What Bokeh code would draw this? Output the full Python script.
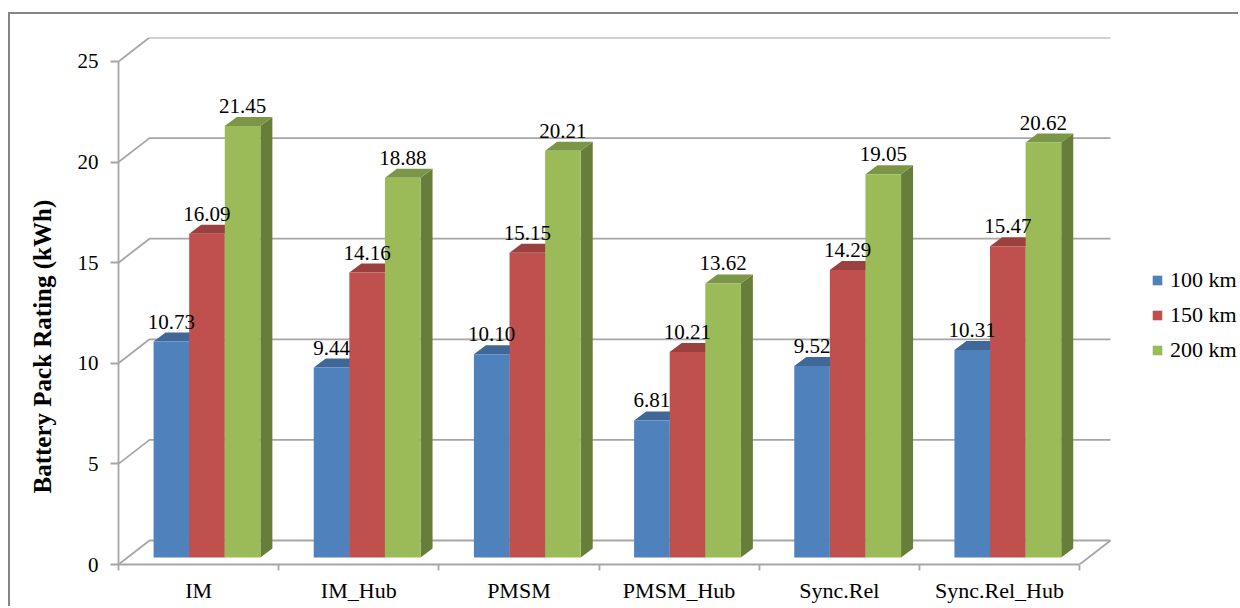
from bokeh.plotting import figure
from bokeh.embed import file_html
from bokeh.resources import INLINE
from bokeh.core.properties import value
from bokeh.models import FixedTicker, Legend, LegendItem, Range1d, Title

categories = ["IM", "IM_Hub", "PMSM", "PMSM_Hub", "Sync.Rel", "Sync.Rel_Hub"]
km100 = [10.73, 9.44, 10.10, 6.81, 9.52, 10.31]
km150 = [16.09, 14.16, 15.15, 10.21, 14.29, 15.47]
km200 = [21.45, 18.88, 20.21, 13.62, 19.05, 20.62]
series_names = ["100 km", "150 km", "200 km"]
y_ticks = [0, 5, 10, 15, 20, 25]

FONT = "Liberation Serif"
GRID = "#a6a6a6"
front_colors = ["#4f81bd", "#c0504d", "#9bbb59"]
top_colors = ["#3f6797", "#9a403e", "#7c9647"]
side_colors = ["#3b6190", "#903c3a", "#677e3a"]

# oblique projection, in data units
WALL_X, WALL_Y = 31 / 160.17, 24 / 20.13
PLANE_X, PLANE_Y = 8.4 / 160.17, 7 / 20.13
DEPTH_X, DEPTH_Y = 12 / 160.17, 9 / 20.13
BAR_W = 35.6 / 160.17
n = len(categories)
X_END = (1240 - 118) / 160.17  # frame runs on to the canvas edge, leaving room for the legend

p = figure(width=1230, height=594, output_backend="svg", toolbar_location=None,
           x_range=Range1d(0, X_END), y_range=Range1d(0, 25 + WALL_Y),
           min_border_left=108, min_border_right=0, min_border_top=23,
           min_border_bottom=44)
p.margin = (12, 0, 0, 8)
p.styles = {"border-top": "2px solid #868686", "border-left": "2px solid #868686"}
p.background_fill_color = "white"
p.border_fill_color = "white"
p.outline_line_color = None
p.grid.visible = False

# walls: gridlines running from the left wall along the back wall
p.multi_line(xs=[[0, WALL_X, n + WALL_X] for _ in y_ticks],
             ys=[[t, t + WALL_Y, t + WALL_Y] for t in y_ticks],
             line_color=GRID, line_width=1.8)
# floor's right edge
p.line([n, n + WALL_X], [0, WALL_Y], line_color=GRID, line_width=1.8)

# bars
legend_items = []
all_series = [km100, km150, km200]
for s, vals in enumerate(all_series):
    cx = [i + 0.5 + PLANE_X + (s - 1) * BAR_W for i in range(n)]
    left = [c - BAR_W / 2 for c in cx]
    right = [c + BAR_W / 2 for c in cx]
    top = [v + PLANE_Y for v in vals]
    # side face
    p.patches([[r, r + DEPTH_X, r + DEPTH_X, r] for r in right],
              [[PLANE_Y, PLANE_Y + DEPTH_Y, t + DEPTH_Y, t] for t in top],
              fill_color=side_colors[s], line_color=None)
    # top face
    p.patches([[l, l + DEPTH_X, r + DEPTH_X, r] for l, r in zip(left, right)],
              [[t, t + DEPTH_Y, t + DEPTH_Y, t] for t in top],
              fill_color=top_colors[s], line_color=None)
    # front face
    r = p.vbar(x=cx, width=BAR_W, bottom=PLANE_Y, top=top,
               fill_color=front_colors[s], line_color=None)
    legend_items.append(LegendItem(label=series_names[s], renderers=[r]))

# data labels
for s, vals in enumerate(all_series):
    cx = [i + 0.5 + PLANE_X + (s - 1) * BAR_W for i in range(n)]
    p.text(x=cx, y=[v + PLANE_Y for v in vals], text=[f"{v:.2f}" for v in vals],
           text_font=value(FONT), text_font_size="21px", text_color="black",
           text_align="center", text_baseline="alphabetic", y_offset=-20)

# axes
ya = p.yaxis[0]
ya.bounds = (0, 25)
ya.ticker = FixedTicker(ticks=y_ticks)
ya.axis_line_color = GRID
ya.axis_line_width = 1.8
ya.major_tick_line_color = GRID
ya.major_tick_line_width = 1.8
ya.major_tick_in = 0
ya.major_tick_out = 8
ya.minor_tick_line_color = None
ya.major_label_standoff = 12
ya.major_label_text_font = FONT
ya.major_label_text_font_size = "21px"
ya.major_label_text_color = "black"

p.add_layout(Title(text="Battery Pack Rating (kWh)", align="left", offset=71,
                   vertical_align="top", standoff=34, text_font=FONT,
                   text_font_style="bold", text_font_size="25px",
                   text_color="black"), "left")

xa = p.xaxis[0]
xa.bounds = (0, n)
xa.ticker = FixedTicker(ticks=[i + 0.5 for i in range(n)],
                        minor_ticks=list(range(n + 1)))
xa.major_label_overrides = {i + 0.5: c for i, c in enumerate(categories)}
xa.axis_line_color = GRID
xa.axis_line_width = 1.8
xa.major_tick_line_color = None
xa.major_tick_in = 0
xa.major_tick_out = 0
xa.minor_tick_line_color = GRID
xa.minor_tick_line_width = 1.8
xa.minor_tick_in = 0
xa.minor_tick_out = 6
xa.major_label_standoff = 7
xa.major_label_text_font = FONT
xa.major_label_text_font_size = "22px"
xa.major_label_text_color = "black"

# legend
legend = Legend(items=legend_items, location=(1033, 201), orientation="vertical",
                background_fill_alpha=0, border_line_color=None, margin=0, padding=0,
                glyph_width=12, glyph_height=12, label_standoff=7, spacing=9,
                label_height=22, label_text_font=FONT, label_text_font_size="22px",
                label_text_color="black")
p.add_layout(legend, "center")

open("out.html", "w").write(file_html(p, INLINE))
